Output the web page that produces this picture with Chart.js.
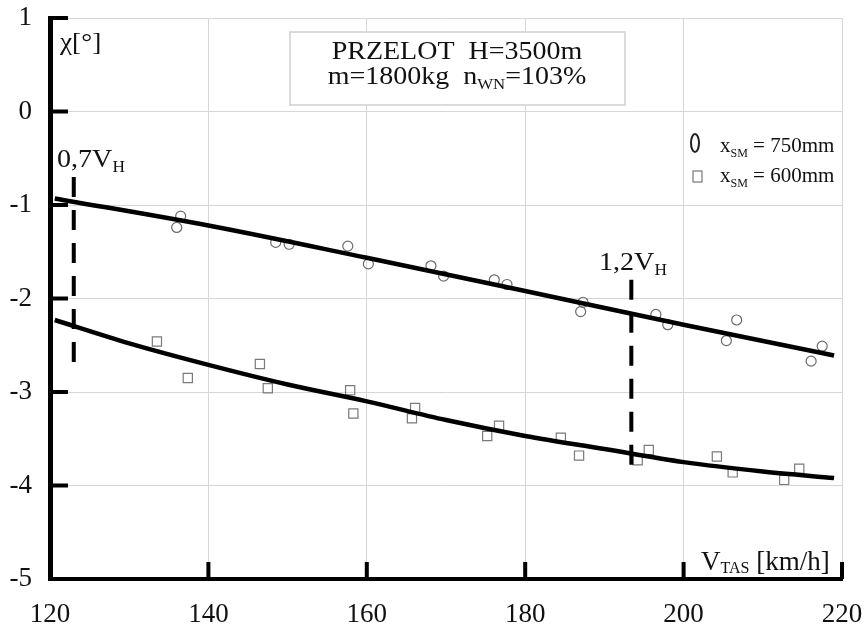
<!DOCTYPE html>
<html>
<head>
<meta charset="utf-8">
<script src="https://cdn.jsdelivr.net/npm/chart.js@4"></script>
<style>
  html, body { margin: 0; padding: 0; background: #fff; }
  canvas { display: block; }
</style>
</head>
<body>
<canvas id="myChart" width="865" height="629"></canvas>
<script>
// punkty pomiarowe, xSM = 750mm (kolka)
const v750 = [136.5, 136.0, 148.5, 150.2, 157.6, 160.2, 168.1, 169.7, 176.1, 177.7, 187.3, 187.0, 196.5, 198.0, 206.7, 205.4, 217.5, 216.1]
const chi750 = [-1.12, -1.24, -1.40, -1.42, -1.44, -1.63, -1.65, -1.76, -1.80, -1.85, -2.04, -2.14, -2.17, -2.28, -2.23, -2.45, -2.51, -2.67]

// punkty pomiarowe, xSM = 600mm (kwadraty)
const v600 = [133.5, 137.4, 146.5, 147.5, 157.9, 158.3, 166.1, 165.7, 176.7, 175.2, 184.5, 186.8, 195.6, 194.2, 204.2, 206.2, 214.6, 212.7]
const chi600 = [-2.46, -2.85, -2.70, -2.96, -2.98, -3.23, -3.17, -3.28, -3.36, -3.47, -3.49, -3.68, -3.62, -3.73, -3.69, -3.86, -3.82, -3.94]

// linie aproksymujace
const fitV750 = [120.6, 140, 160, 180, 200, 219]
const fitChi750 = [-0.93, -1.22, -1.565, -1.92, -2.28, -2.61]
const fitV600 = [120.6, 130, 140, 150, 160, 170, 180, 190, 200, 210, 219]
const fitChi600 = [-2.23, -2.48, -2.71, -2.92, -3.10, -3.30, -3.47, -3.61, -3.75, -3.85, -3.92]

// 0,7VH i 1,2VH
const limitV = [123.0, 193.4]
const limitTop = [-0.70, -1.80]
const limitBottom = [-2.80, -3.91]

const xTicks = [120, 140, 160, 180, 200, 220]
const yTicks = [1, 0, -1, -2, -3, -4, -5]

const SERIF = '"Liberation Serif", "Times New Roman", serif'

function pts(xs, ys) {
  return xs.map((x, i) => ({x: x, y: ys[i]}))
}

// tekst z indeksami dolnymi, parts: [{t, s, dy}]
function richText(ctx, x, y, parts, align, sx) {
  sx = sx || 1
  let w = 0
  parts.forEach(p => {
    ctx.font = p.s + 'px ' + SERIF
    p.w = ctx.measureText(p.t).width
    w += p.w
  })
  ctx.save()
  ctx.translate(x, y)
  ctx.scale(sx, 1)
  let cx = align === 'center' ? -w / 2 : 0
  ctx.textAlign = 'left'
  ctx.textBaseline = 'alphabetic'
  ctx.fillStyle = '#111'
  parts.forEach(p => {
    ctx.font = p.s + 'px ' + SERIF
    ctx.fillText(p.t, cx, p.dy || 0)
    cx += p.w
  })
  ctx.restore()
}

const extras = {
  id: 'extras',
  beforeDatasetsDraw(chart) {
    const ctx = chart.ctx
    // ramka z opisem
    ctx.save()
    ctx.fillStyle = '#fff'
    ctx.fillRect(290, 32, 335, 73)
    ctx.strokeStyle = '#cfcfcf'
    ctx.lineWidth = 1.5
    ctx.strokeRect(290, 32, 335, 73)
    ctx.restore()
    richText(ctx, 457, 59, [{t: 'PRZELOT  H=3500m', s: 25}], 'center', 1.12)
    richText(ctx, 457, 84, [{t: 'm=1800kg  n', s: 25}, {t: 'WN', s: 15, dy: 5}, {t: '=103%', s: 25}], 'center', 1.12)
  },
  afterDatasetsDraw(chart) {
    const ctx = chart.ctx
    const xs = chart.scales.x
    const ys = chart.scales.y
    const left = chart.chartArea.left
    const bottom = chart.chartArea.bottom

    // znaczniki osi do srodka
    ctx.save()
    ctx.strokeStyle = '#000'
    ctx.lineWidth = 4
    ctx.beginPath()
    yTicks.forEach(v => {
      if (v === -5) return
      const py = ys.getPixelForValue(v)
      ctx.moveTo(left, py)
      ctx.lineTo(left + 18, py)
    })
    xTicks.forEach(v => {
      if (v === 120) return
      const px = xs.getPixelForValue(v)
      ctx.moveTo(px, bottom)
      ctx.lineTo(px, bottom - 17)
    })
    ctx.stroke()
    ctx.restore()

    // opisy
    richText(ctx, 60, 50, [{t: 'χ[°]', s: 26}], 'left', 1.05)
    richText(ctx, 57, 167, [{t: '0,7V', s: 26}, {t: 'H', s: 16, dy: 5}], 'left', 1.08)
    richText(ctx, 599, 270, [{t: '1,2V', s: 26}, {t: 'H', s: 16, dy: 5}], 'left', 1.08)
    richText(ctx, 701, 570, [{t: 'V', s: 27}, {t: 'TAS', s: 16, dy: 3}, {t: ' [km/h]', s: 27}], 'left', 1.0)

    // legenda
    ctx.save()
    ctx.strokeStyle = '#222'
    ctx.lineWidth = 2
    ctx.beginPath()
    ctx.ellipse(695, 143, 4, 9, 0, 0, Math.PI * 2)
    ctx.stroke()
    ctx.strokeStyle = '#777'
    ctx.lineWidth = 1.2
    ctx.strokeRect(693, 171, 9, 11)
    ctx.restore()
    richText(ctx, 720, 152, [{t: 'x', s: 21}, {t: 'SM', s: 12, dy: 5}, {t: ' = 750mm', s: 21}], 'left', 1.0)
    richText(ctx, 720, 182, [{t: 'x', s: 21}, {t: 'SM', s: 12, dy: 5}, {t: ' = 600mm', s: 21}], 'left', 1.0)
  }
}

const ctx = document.getElementById('myChart')
const myChart = new Chart(ctx, {
  type: 'scatter',
  data: {
    datasets: [
      {
        label: 'fit 750',
        data: pts(fitV750, fitChi750),
        showLine: true,
        borderColor: '#000',
        borderWidth: 4.5,
        pointRadius: 0,
        cubicInterpolationMode: 'monotone'
      },
      {
        label: 'fit 600',
        data: pts(fitV600, fitChi600),
        showLine: true,
        borderColor: '#000',
        borderWidth: 4.5,
        pointRadius: 0,
        cubicInterpolationMode: 'monotone'
      },
      {
        label: '0,7VH',
        data: [{x: limitV[0], y: limitTop[0]}, {x: limitV[0], y: limitBottom[0]}],
        showLine: true,
        borderColor: '#000',
        borderWidth: 4,
        borderDash: [20, 13],
        pointRadius: 0
      },
      {
        label: '1,2VH',
        data: [{x: limitV[1], y: limitTop[1]}, {x: limitV[1], y: limitBottom[1]}],
        showLine: true,
        borderColor: '#000',
        borderWidth: 4,
        borderDash: [20, 13],
        pointRadius: 0
      },
      {
        label: 'xSM = 750mm',
        data: pts(v750, chi750),
        pointStyle: 'circle',
        pointRadius: 5,
        borderColor: '#6a6a6a',
        backgroundColor: 'rgba(0,0,0,0)',
        borderWidth: 1.2
      },
      {
        label: 'xSM = 600mm',
        data: pts(v600, chi600),
        pointStyle: 'rect',
        pointRadius: 6.5,
        borderColor: '#7a7a7a',
        backgroundColor: 'rgba(0,0,0,0)',
        borderWidth: 1.2
      }
    ]
  },
  options: {
    responsive: false,
    animation: false,
    layout: {padding: {top: 18, right: 23, left: 0, bottom: 0}},
    plugins: {
      legend: {display: false},
      tooltip: {enabled: false}
    },
    scales: {
      x: {
        type: 'linear',
        min: 120,
        max: 220,
        afterBuildTicks: s => { s.ticks = xTicks.map(v => ({value: v})) },
        afterFit: s => {
          s.height = 50
          s.paddingLeft = 0
          s.paddingRight = 0
        },
        grid: {color: '#d6d6d6', lineWidth: 1, drawTicks: false},
        border: {display: true, color: '#000', width: 4},
        ticks: {
          padding: 20,
          autoSkip: false,
          maxRotation: 0,
          color: '#111',
          font: {family: SERIF, size: 27}
        }
      },
      y: {
        type: 'linear',
        min: -5,
        max: 1,
        afterBuildTicks: s => { s.ticks = yTicks.map(v => ({value: v})) },
        afterFit: s => {
          s.width = 50
          s.paddingTop = 0
          s.paddingBottom = 0
        },
        grid: {color: '#d6d6d6', lineWidth: 1, drawTicks: false},
        border: {display: true, color: '#000', width: 5},
        ticks: {
          padding: 18,
          color: '#111',
          font: {family: SERIF, size: 27}
        }
      }
    }
  },
  plugins: [extras]
})
</script>
</body>
</html>
